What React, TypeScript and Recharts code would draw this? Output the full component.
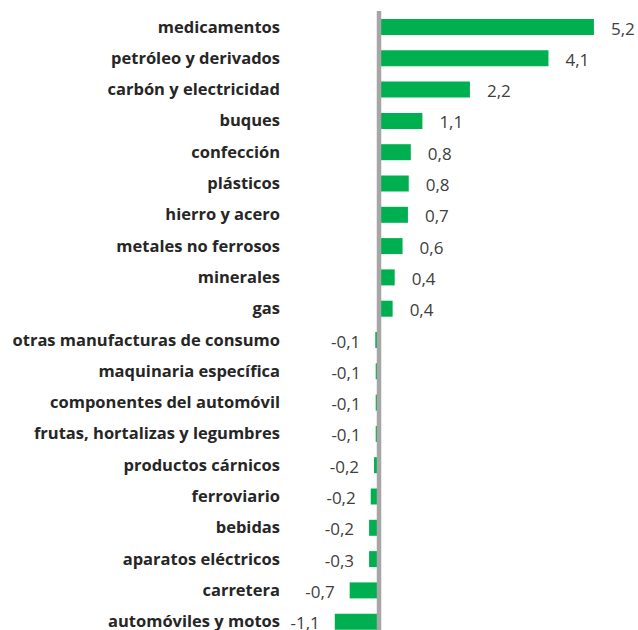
import { Bar, BarChart, LabelList, ReferenceLine, XAxis, YAxis } from "recharts";

const categories = [
  "medicamentos",
  "petróleo y derivados",
  "carbón y electricidad",
  "buques",
  "confección",
  "plásticos",
  "hierro y acero",
  "metales no ferrosos",
  "minerales",
  "gas",
  "otras manufacturas de consumo",
  "maquinaria específica",
  "componentes del automóvil",
  "frutas, hortalizas y legumbres",
  "productos cárnicos",
  "ferroviario",
  "bebidas",
  "aparatos eléctricos",
  "carretera",
  "automóviles y motos",
];

const values = [
  5.2, 4.1, 2.2, 1.05, 0.77, 0.72, 0.7, 0.57, 0.38, 0.33,
  -0.09, -0.08, -0.08, -0.08, -0.12, -0.2, -0.24, -0.24, -0.71, -1.07,
];

const valueLabels = [
  "5,2", "4,1", "2,2", "1,1", "0,8", "0,8", "0,7", "0,6", "0,4", "0,4",
  "-0,1", "-0,1", "-0,1", "-0,1", "-0,2", "-0,2", "-0,2", "-0,3", "-0,7", "-1,1",
];

const data = categories.map((name, i) => ({
  name,
  value: values[i],
  label: valueLabels[i],
}));

const FONT = "'Open Sans', Lato, sans-serif";

function ValueLabel(props: any) {
  const { x, y, width, height, index } = props;
  const left = Math.min(x, x + width);
  const right = Math.max(x, x + width);
  const pos = values[index] >= 0;
  return (
    <text
      x={pos ? right + 17 : left - 15}
      y={y + height / 2 + 1}
      textAnchor={pos ? "start" : "end"}
      dominantBaseline="central"
      fontFamily={FONT}
      fontSize={17}
      fill="#404040"
    >
      {valueLabels[index]}
    </text>
  );
}

export default function App() {
  return (
    <div
      style={{
        position: "absolute",
        left: 0,
        top: 0,
        width: 638,
        height: 630,
        overflow: "hidden",
        background: "#fff",
      }}
    >
      <BarChart
        width={638}
        height={637}
        data={data}
        layout="vertical"
        margin={{ top: 11, right: 11, left: 0, bottom: 0 }}
        barSize={16}
      >
        <XAxis type="number" domain={[-1.5, 6]} hide />
        <YAxis
          type="category"
          dataKey="name"
          width={317}
          axisLine={false}
          tickLine={false}
          tickMargin={31}
          interval={0}
          tick={{
            fontFamily: FONT,
            fontSize: 16.5,
            fontWeight: 700,
            fill: "#262626",
          }}
        />
        <Bar dataKey="value" fill="#00B050" isAnimationActive={false}>
          <LabelList dataKey="label" content={<ValueLabel />} />
        </Bar>
        <ReferenceLine x={0} stroke="#A6A6A6" strokeWidth={4.5} />
      </BarChart>
    </div>
  );
}
